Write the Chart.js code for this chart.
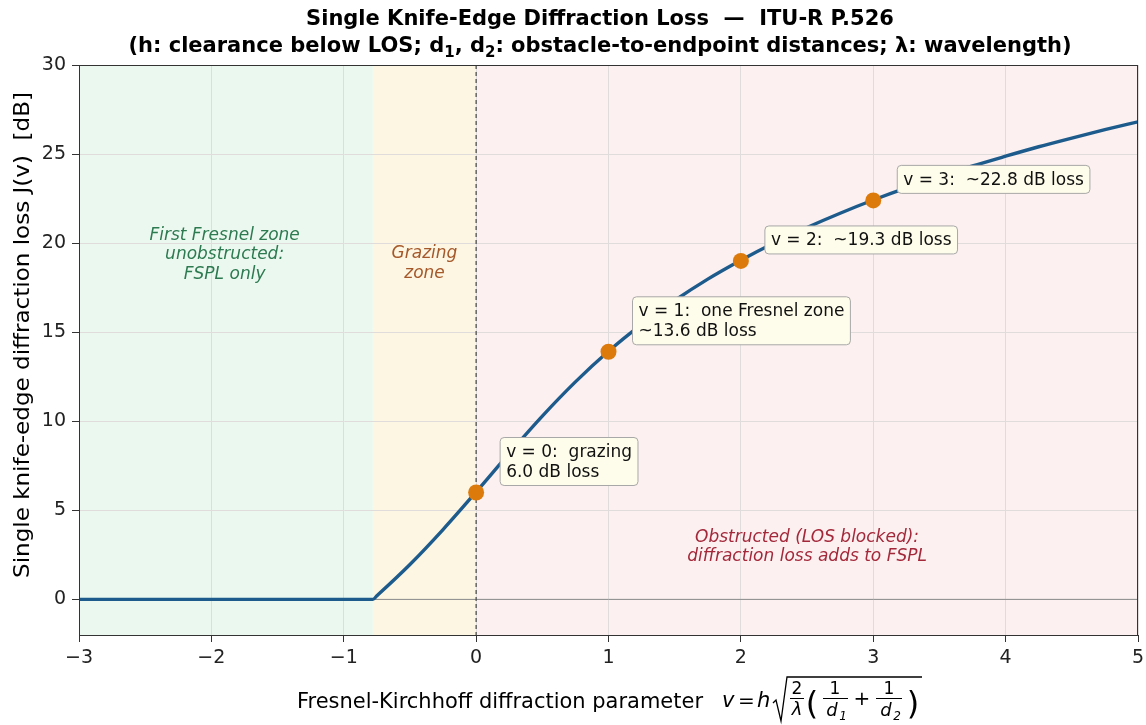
<!DOCTYPE html>
<html><head><meta charset="utf-8">
<script src="https://cdn.jsdelivr.net/npm/chart.js@4/dist/chart.umd.min.js"></script>
<style>html,body{margin:0;padding:0;background:#fff}#wrap{width:1146px;height:725px}</style>
</head><body><div id="wrap"><canvas id="c" width="1146" height="725"></canvas></div>
<script>
// ---- data ----
const curveV = [-3, -2, -1, -0.78, -0.75, -0.5, -0.25, 0, 0.25, 0.5, 0.75, 1, 1.25, 1.5, 1.75, 2, 2.25, 2.5, 2.75, 3, 3.25, 3.5, 3.75, 4, 4.25, 4.5, 4.75, 5];
const curveJ = [0, 0, 0, 0, 0.2, 1.96, 3.92, 6.03, 8.2, 10.29, 12.21, 13.93, 15.44, 16.78, 17.98, 19.04, 20.01, 20.88, 21.68, 22.42, 23.1, 23.73, 24.33, 24.88, 25.41, 25.9, 26.37, 26.81];
const markerV = [0, 1, 2, 3];
const markerJ = [6.0, 13.9, 19.0, 22.4];
const markerNotes = [["v = 0:  grazing", "6.0 dB loss"], ["v = 1:  one Fresnel zone", "~13.6 dB loss"], ["v = 2:  ~19.3 dB loss"], ["v = 3:  ~22.8 dB loss"]];
const xTicks = [-3, -2, -1, 0, 1, 2, 3, 4, 5];
const yTicks = [0, 5, 10, 15, 20, 25, 30];
const zoneEdges = [-3, -0.78, 0, 5];
const zoneNames = [["First Fresnel zone", "unobstructed:", "FSPL only"], ["Grazing", "zone"], ["Obstructed (LOS blocked):", "diffraction loss adds to FSPL"]];
const zoneLabelAt = [[-1.9, 19.4], [-0.39, 18.9], [2.5, 3.0]];

// ---- styles ----
const FONT = "'DejaVu Sans', sans-serif";
const zoneFill = ["#eaf8ef", "#fdf6e2", "#fcf0f0"];
const zoneText = ["#2d7a50", "#a5582a", "#a3283a"];

const fmt = v => (v < 0 ? "\u2212" + Math.abs(v) : String(v));

const decor = {
  id: "decor",
  beforeDraw(chart) {
    const { ctx, chartArea: a, scales: { x } } = chart;
    ctx.save();
    for (let i = 0; i < 3; i++) {
      const x0 = x.getPixelForValue(zoneEdges[i]), x1 = x.getPixelForValue(zoneEdges[i + 1]);
      ctx.fillStyle = zoneFill[i];
      ctx.fillRect(x0, a.top, x1 - x0, a.bottom - a.top);
    }
    ctx.restore();
  },
  beforeDatasetsDraw(chart) {
    const { ctx, chartArea: a, scales: { x, y } } = chart;
    ctx.save();
    ctx.font = "italic 17px " + FONT;
    ctx.textAlign = "center"; ctx.textBaseline = "middle";
    for (let i = 0; i < 3; i++) {
      const lines = zoneNames[i];
      const cx = x.getPixelForValue(zoneLabelAt[i][0]), cy = y.getPixelForValue(zoneLabelAt[i][1]);
      const lh = 19.5;
      ctx.fillStyle = zoneText[i];
      lines.forEach((t, k) => ctx.fillText(t, cx, cy + 1 + (k - (lines.length - 1) / 2) * lh));
    }
    const y0 = y.getPixelForValue(0);
    ctx.strokeStyle = "#8a8a8a"; ctx.lineWidth = 1;
    ctx.beginPath(); ctx.moveTo(a.left, y0); ctx.lineTo(a.right, y0); ctx.stroke();
    const x0 = x.getPixelForValue(0);
    ctx.strokeStyle = "#444"; ctx.lineWidth = 1.2; ctx.setLineDash([4, 3]);
    ctx.beginPath(); ctx.moveTo(x0, a.top); ctx.lineTo(x0, a.bottom); ctx.stroke();
    ctx.restore();
  },
  afterDatasetsDraw(chart) {
    const { ctx, scales: { x, y } } = chart;
    ctx.save();
    ctx.font = "17px " + FONT;
    ctx.textAlign = "left"; ctx.textBaseline = "middle";
    markerV.forEach((v, i) => {
      const px = x.getPixelForValue(v), py = y.getPixelForValue(markerJ[i]);
      const lines = markerNotes[i];
      const lh = 20, pad = 6;
      const w = Math.max(...lines.map(t => ctx.measureText(t).width)) + 2 * pad;
      const h = lines.length * lh + 8;
      const bx = px + 24, by = py - 7 - h;
      ctx.beginPath();
      ctx.roundRect(bx, by, w, h, 4);
      ctx.fillStyle = "#fefcea"; ctx.fill();
      ctx.strokeStyle = "#a8a8a8"; ctx.lineWidth = 1; ctx.stroke();
      ctx.fillStyle = "#111";
      lines.forEach((t, k) => ctx.fillText(t, bx + pad, by + 4 + lh * (k + 0.5) + 1));
    });
    ctx.restore();
  },
  afterDraw(chart) {
    const { ctx, chartArea: a } = chart;
    ctx.save();
    ctx.strokeStyle = "#333"; ctx.lineWidth = 1;
    ctx.strokeRect(a.left + 0.5, a.top + 0.5, a.right - a.left - 1, a.bottom - a.top);
    // title
    const tc = 600;
    ctx.fillStyle = "#000"; ctx.textBaseline = "alphabetic";
    ctx.font = "bold 21px " + FONT; ctx.textAlign = "center";
    ctx.fillText("Single Knife-Edge Diffraction Loss  \u2014  ITU-R P.526", tc, 25);
    const segs = [["(h: clearance below LOS; d", 0], ["1", 1], [", d", 0], ["2", 1], [": obstacle-to-endpoint distances; \u03bb: wavelength)", 0]];
    const fMain = "bold 21px " + FONT, fSub = "bold 15px " + FONT;
    let tw = 0;
    segs.forEach(s => { ctx.font = s[1] ? fSub : fMain; tw += ctx.measureText(s[0]).width; });
    let cx = tc - tw / 2; ctx.textAlign = "left";
    segs.forEach(s => {
      ctx.font = s[1] ? fSub : fMain;
      ctx.fillText(s[0], cx, s[1] ? 57 : 52);
      cx += ctx.measureText(s[0]).width;
    });
    // y label
    ctx.save();
    ctx.translate(23, 335); ctx.rotate(-Math.PI / 2);
    ctx.font = "22px " + FONT; ctx.textAlign = "center"; ctx.textBaseline = "middle";
    const yl = "Single knife-edge diffraction loss J(v)  [dB]";
    const yw = ctx.measureText(yl).width;
    ctx.scale(486 / yw, 1);
    ctx.fillText(yl, 0, 0);
    ctx.restore();
    // x label
    ctx.save();
    ctx.font = "21px " + FONT; ctx.textAlign = "left";
    const lbl = "Fresnel-Kirchhoff diffraction parameter";
    const lw = ctx.measureText(lbl).width;
    ctx.translate(297, 708); ctx.scale(406 / lw, 1);
    ctx.fillText(lbl, 0, 0);
    ctx.restore();
    // math part
    const base = 707;
    const it = "italic 21px " + FONT, rm = "20px " + FONT, sm = "italic 18px " + FONT, smr = "17px " + FONT, sub = "italic 12px " + FONT;
    ctx.textAlign = "left";
    ctx.font = it; ctx.fillText("v", 722, base);
    ctx.font = rm; ctx.fillText("=", 738, base);
    ctx.font = it; ctx.fillText("h", 757, base);
    ctx.strokeStyle = "#000"; ctx.lineWidth = 1.3;
    ctx.beginPath();
    ctx.moveTo(773, 703); ctx.lineTo(776, 700); ctx.lineTo(781, 721); ctx.lineTo(787, 677); ctx.lineTo(922, 677);
    ctx.stroke();
    ctx.textAlign = "center";
    ctx.font = smr; ctx.fillText("2", 797, 694);
    ctx.beginPath(); ctx.moveTo(790, 698.5); ctx.lineTo(804, 698.5); ctx.lineWidth = 1; ctx.stroke();
    ctx.font = sm; ctx.fillText("\u03bb", 797, 715);
    ctx.font = "32px " + FONT; ctx.fillText("(", 812, 714); ctx.fillText(")", 913, 714);
    ctx.font = smr; ctx.fillText("1", 835, 694);
    ctx.beginPath(); ctx.moveTo(823, 698.5); ctx.lineTo(848, 698.5); ctx.stroke();
    ctx.font = sm; ctx.fillText("d", 832, 716); ctx.font = sub; ctx.fillText("1", 843, 720);
    ctx.font = rm; ctx.fillText("+", 862, 705);
    ctx.font = smr; ctx.fillText("1", 889, 694);
    ctx.beginPath(); ctx.moveTo(876, 698.5); ctx.lineTo(902, 698.5); ctx.stroke();
    ctx.font = sm; ctx.fillText("d", 886, 716); ctx.font = sub; ctx.fillText("2", 897, 720);
    ctx.restore();
  }
};

new Chart(document.getElementById("c"), {
  type: "line",
  data: {
    datasets: [
      {
        data: curveV.map((v, i) => ({ x: v, y: curveJ[i] })),
        borderColor: "#1d5b8c", borderWidth: 3.4, pointRadius: 0,
        cubicInterpolationMode: "monotone", fill: false, order: 2
      },
      {
        data: markerV.map((v, i) => ({ x: v, y: markerJ[i] })),
        showLine: false, pointRadius: 8, pointBackgroundColor: "#dd7a0c",
        pointBorderColor: "#dd7a0c", pointBorderWidth: 0, order: 1
      }
    ]
  },
  options: {
    responsive: false, devicePixelRatio: 1, animation: false,
    layout: { padding: { top: 65, right: 2, left: 0, bottom: 0 } },
    plugins: { legend: { display: false }, title: { display: false }, tooltip: { enabled: false } },
    scales: {
      x: {
        type: "linear", min: -3, max: 5,
        afterBuildTicks: s => { s.ticks = xTicks.map(v => ({ value: v })); },
        afterFit: s => { s.height = 90; s.paddingLeft = 0; s.paddingRight = 0; },
        ticks: { callback: v => fmt(v), font: { family: FONT, size: 19 }, color: "#222", padding: 5, maxRotation: 0 },
        grid: { color: "#e0dcdc", lineWidth: 1, tickLength: 7, tickColor: "#333", drawTicks: true },
        border: { display: true, color: "#333", width: 1 }
      },
      y: {
        type: "linear", min: -2, max: 30,
        afterBuildTicks: s => { s.ticks = yTicks.map(v => ({ value: v })); },
        afterFit: s => { s.width = 79; s.paddingTop = 0; s.paddingBottom = 0; },
        ticks: { callback: v => fmt(v), font: { family: FONT, size: 19 }, color: "#222", padding: 6 },
        grid: { color: "#e0dcdc", lineWidth: 1, tickLength: 7, tickColor: "#333", drawTicks: true },
        border: { display: true, color: "#333", width: 1 }
      }
    }
  },
  plugins: [decor]
});
</script>
</body></html>
